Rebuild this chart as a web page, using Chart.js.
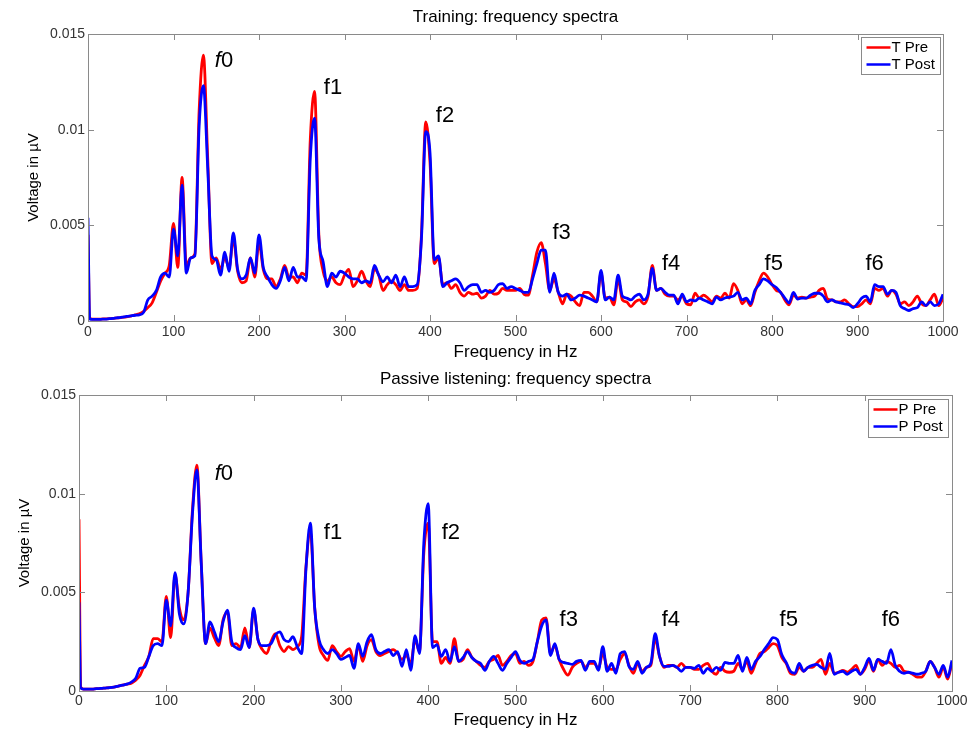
<!DOCTYPE html>
<html>
<head>
<meta charset="utf-8">
<title>Frequency spectra</title>
<script src="https://cdn.jsdelivr.net/npm/chart.js@4.4.1/dist/chart.umd.min.js"></script>
<style>
  html, body { margin: 0; padding: 0; background: #fff; }
  #wrap { position: relative; width: 973px; height: 731px; }
  .panel { position: absolute; left: 0; width: 973px; }
</style>
</head>
<body>
<div id="wrap">
  <div class="panel" style="top:0;height:365px"><canvas id="training" width="973" height="365"></canvas></div>
  <div class="panel" style="top:365px;height:366px"><canvas id="passive" width="973" height="366"></canvas></div>
</div>
<script>
// frequency of each sample, Hz
const freqHz = [
  0, 2, 5, 10, 15, 20, 25, 30, 35, 40,
  45, 50, 55, 60, 65, 70, 75, 80, 85, 90,
  95, 100, 105, 110, 115, 120, 125, 130, 135, 140,
  145, 150, 155, 160, 165, 170, 175, 180, 185, 190,
  195, 200, 205, 210, 215, 220, 225, 230, 235, 240,
  245, 250, 255, 260, 265, 270, 275, 280, 285, 290,
  295, 300, 305, 310, 315, 320, 325, 330, 335, 340,
  345, 350, 355, 360, 365, 370, 375, 380, 385, 390,
  395, 400, 405, 410, 415, 420, 425, 430, 435, 440,
  445, 450, 455, 460, 465, 470, 475, 480, 485, 490,
  495, 500, 505, 510, 515, 520, 525, 530, 535, 540,
  545, 550, 555, 560, 565, 570, 575, 580, 585, 590,
  595, 600, 605, 610, 615, 620, 625, 630, 635, 640,
  645, 650, 655, 660, 665, 670, 675, 680, 685, 690,
  695, 700, 705, 710, 715, 720, 725, 730, 735, 740,
  745, 750, 755, 760, 765, 770, 775, 780, 785, 790,
  795, 800, 805, 810, 815, 820, 825, 830, 835, 840,
  845, 850, 855, 860, 865, 870, 875, 880, 885, 890,
  895, 900, 905, 910, 915, 920, 925, 930, 935, 940,
  945, 950, 955, 960, 965, 970, 975, 980, 985, 990,
  995, 1000
];

// spectra, values in thousandths of a µV (0.001 µV)
const tPre = [
  4.5, 0.15, 0.1, 0.1, 0.1, 0.11, 0.12, 0.14, 0.16, 0.19,
  0.22, 0.26, 0.32, 0.38, 0.5, 0.7, 0.95, 1.5, 2.1, 2.5,
  2.9, 5.1, 2.8, 7.5, 2.9, 3.3, 3.5, 11.0, 13.9, 8.5,
  3.0, 3.3, 2.7, 3.3, 2.8, 4.3, 2.6, 2.0, 2.1, 3.3,
  2.3, 4.1, 2.7, 2.2, 2.2, 1.8, 2.2, 2.9, 2.3, 2.3,
  2.0, 2.5, 2.4, 9.5, 12.0, 4.5, 2.6, 2.1, 2.3, 2.0,
  1.9, 2.4, 2.7, 1.8, 2.1, 2.6, 2.1, 1.8, 2.7, 2.4,
  1.6, 1.9, 2.1, 1.9, 1.6, 1.9, 1.6, 1.6, 1.7, 4.5,
  10.4, 8.3, 3.0, 3.3, 1.9, 2.0, 1.7, 1.9, 1.5, 1.3,
  1.5, 1.4, 1.45, 1.2, 1.3, 1.6, 1.4, 1.45, 1.7, 1.6,
  1.6, 1.6, 1.7, 1.4, 1.35, 2.4, 3.6, 4.1, 3.0, 1.6,
  2.2, 1.5, 0.9, 1.4, 1.3, 1.0, 0.8, 1.5, 1.5, 1.3,
  1.0, 2.5, 1.2, 1.25, 0.85, 2.2, 1.1, 1.0, 0.75, 1.0,
  1.1, 0.9, 1.3, 2.9, 1.6, 1.7, 1.4, 1.3, 1.3, 1.1,
  1.3, 0.9, 0.85, 1.45, 1.2, 1.35, 1.2, 1.0, 1.3, 1.2,
  1.45, 1.2, 1.95, 1.6, 0.9, 1.1, 0.8, 1.5, 2.1, 2.5,
  2.3, 1.9, 1.6, 1.5, 1.1, 0.85, 1.35, 1.2, 1.25, 1.2,
  1.25, 1.3, 1.6, 1.7, 1.15, 1.1, 1.0, 1.0, 1.1, 0.9,
  0.75, 0.75, 0.9, 1.1, 0.9, 1.7, 1.6, 1.7, 1.3, 1.6,
  1.4, 0.9, 1.0, 0.8, 1.0, 1.3, 0.9, 0.8, 1.1, 1.4,
  0.8, 1.2
];
const tPost = [
  5.4, 0.1, 0.08, 0.08, 0.09, 0.1, 0.12, 0.14, 0.17, 0.2,
  0.24, 0.27, 0.3, 0.32, 0.45, 1.1, 1.3, 1.6, 2.3, 2.5,
  2.3, 4.8, 3.4, 7.1, 2.5, 3.3, 3.4, 10.2, 12.3, 8.0,
  3.4, 3.2, 2.4, 3.6, 2.6, 4.6, 2.7, 2.2, 2.4, 3.3,
  2.5, 4.5, 2.8, 2.3, 1.9, 1.7, 2.1, 2.8, 2.1, 2.8,
  2.3, 2.3, 2.1, 8.5, 10.6, 4.3, 3.1, 1.8, 2.5, 2.3,
  2.6, 2.5, 2.3, 2.2, 2.2, 2.0, 2.1, 2.0, 2.9, 2.4,
  2.05, 2.3, 2.0, 2.4, 1.8, 2.3, 1.8, 1.8, 1.9, 4.3,
  9.9, 8.8, 3.2, 3.4, 1.8, 2.0, 2.1, 2.2, 2.0, 1.6,
  1.8, 1.9, 1.9, 1.5, 1.6, 1.5, 1.6, 1.9, 1.95, 1.7,
  1.8, 1.7, 1.6, 1.5, 1.5, 2.2, 3.0, 3.7, 3.7, 1.5,
  2.5, 1.5, 1.3, 1.4, 1.1, 1.2, 1.35, 1.3, 1.2, 1.1,
  1.0, 2.65, 1.1, 1.25, 1.1, 2.4, 1.3, 1.2, 1.1, 1.3,
  1.4, 1.1, 1.4, 2.75, 1.6, 1.7, 1.5, 1.35, 1.35, 0.9,
  1.4, 1.0, 1.1, 1.05, 1.2, 1.1, 1.0, 0.9, 1.25, 1.1,
  1.2, 1.25, 1.3, 1.5, 1.1, 1.2, 0.9, 1.6, 1.9, 2.2,
  2.1, 1.9, 1.75, 1.5, 1.2, 0.95, 1.5, 1.15, 1.2, 1.2,
  1.35, 1.45, 1.45, 1.3, 1.0, 1.1, 1.0, 0.95, 0.9, 0.85,
  0.7, 0.9, 1.2, 1.3, 1.0, 1.9, 1.8, 1.8, 1.4, 1.6,
  1.5, 0.8, 0.65, 0.55, 0.65, 0.7, 1.0, 0.8, 1.0, 0.8,
  0.9, 1.4
];
const pPre = [
  8.7, 0.2, 0.1, 0.1, 0.1, 0.12, 0.13, 0.15, 0.17, 0.2,
  0.25, 0.3, 0.35, 0.4, 0.55, 0.8, 1.3, 1.75, 2.65, 2.65,
  2.5, 4.8, 2.7, 5.9, 4.2, 3.6, 5.0, 9.2, 11.45, 6.5,
  2.4, 3.2, 2.7, 2.3, 3.6, 4.0, 2.3, 2.4, 2.2, 3.2,
  2.2, 4.1, 2.6, 2.1, 1.9, 2.5, 2.9, 2.3, 2.0, 2.25,
  2.1, 2.25, 2.75, 6.3, 8.15, 4.2, 2.3, 1.8, 1.55, 2.3,
  2.0, 1.75, 2.0, 2.15, 1.5, 2.3, 1.5, 2.3, 2.6, 2.0,
  1.8, 1.9, 2.0, 2.1, 1.9, 1.6, 1.8, 1.4, 2.6, 2.0,
  7.0, 8.5, 2.5, 2.5, 1.4, 1.7, 1.4, 2.65, 1.5, 1.6,
  2.1, 1.7, 1.5, 1.3, 1.2, 1.5, 1.6, 1.8, 1.3, 1.5,
  1.8, 1.9, 1.4, 1.5, 1.3, 1.5, 2.5, 3.6, 3.7, 1.9,
  2.3, 1.6, 1.1, 0.8, 1.2, 1.4, 1.5, 1.2, 1.4, 1.4,
  1.15, 1.9, 1.2, 1.1, 1.1, 1.6, 1.9, 1.3, 0.9, 1.4,
  1.0, 1.2, 1.3, 2.65, 1.75, 1.2, 1.3, 1.3, 1.2, 1.4,
  1.2, 1.2, 1.1, 1.1, 1.3, 1.4, 1.0, 0.85, 1.2, 1.0,
  0.95, 1.0, 1.4, 1.1, 1.5, 0.9, 1.4, 1.9, 2.0, 2.2,
  2.4, 2.3, 1.7, 1.4, 0.9, 0.85, 1.2, 1.0, 1.2, 1.2,
  1.4, 1.6, 0.85, 1.4, 0.9, 0.95, 1.05, 0.95, 1.1, 1.3,
  0.85, 1.1, 1.55, 1.0, 1.6, 1.3, 1.5, 1.4, 1.2, 1.3,
  1.0, 0.95, 0.85, 0.7, 0.7, 1.0, 1.5, 1.2, 0.7, 1.2,
  0.6, 1.45
];
const pPost = [
  4.5, 0.15, 0.1, 0.1, 0.1, 0.12, 0.13, 0.15, 0.17, 0.2,
  0.25, 0.3, 0.35, 0.45, 0.65, 1.15, 1.2, 1.75, 2.3, 2.4,
  2.3, 4.6, 3.3, 6.0, 3.9, 3.4, 5.0, 9.0, 11.2, 6.5,
  2.4, 3.5, 3.0, 2.5, 3.5, 4.1, 2.5, 2.2, 2.1, 2.8,
  2.2, 4.2, 2.6, 2.3, 2.3, 2.4, 2.85, 3.0, 2.6, 2.5,
  2.75, 2.25, 1.9, 6.2, 8.5, 4.2, 2.6, 2.1, 1.9, 2.1,
  1.9, 1.6, 1.7, 1.8, 1.15, 2.4, 1.75, 2.5, 2.85, 2.1,
  1.9, 2.0, 2.1, 1.8, 2.0, 1.25, 2.1, 1.05, 2.8, 1.9,
  7.5, 9.5, 2.2, 2.35, 1.75, 2.1, 1.5, 2.25, 1.5, 1.7,
  2.0, 1.7, 1.5, 1.4, 1.05, 1.5, 1.75, 1.4, 1.05, 1.4,
  1.7, 2.0, 1.55, 1.4, 1.5, 1.6, 2.5, 3.3, 3.6, 1.8,
  2.4, 1.6, 1.45, 1.4, 1.35, 1.5, 1.55, 1.05, 1.5, 1.5,
  1.05, 2.25, 1.0, 1.4, 0.9, 1.9, 2.0, 1.25, 1.1, 1.5,
  0.9, 1.2, 1.4, 2.9, 1.75, 1.25, 1.25, 1.3, 1.2, 1.0,
  1.2, 1.2, 1.15, 1.3, 0.9, 1.15, 1.0, 1.2, 1.05, 1.45,
  1.4, 1.4, 1.8, 1.0, 1.7, 1.1, 1.5, 1.75, 2.1, 2.4,
  2.7, 2.6, 1.85, 1.45, 1.0, 0.9, 1.4, 1.0, 1.2, 1.3,
  1.35, 1.2, 1.1, 1.9, 0.85, 0.95, 1.0, 0.85, 1.0, 1.1,
  0.85, 1.2, 1.65, 1.05, 1.6, 1.5, 1.4, 2.1, 1.3, 1.0,
  0.9, 0.95, 0.9, 0.85, 0.9, 1.0, 1.5, 1.2, 0.85, 1.3,
  0.7, 1.55
];

// axis ticks
const xTicks = [0, 100, 200, 300, 400, 500, 600, 700, 800, 900, 1000];
const yTicks = [0, 0.005, 0.01, 0.015];
const yTickLabels = ['0', '0.005', '0.01', '0.015'];

// harmonic markers and where they sit (Hz, µV)
const harmonicNames = ['f0', 'f1', 'f2', 'f3', 'f4', 'f5', 'f6'];
const trainingLabelHz = [159, 286.5, 417.5, 554, 682, 802, 920];
const trainingLabelV = [0.0136, 0.0122, 0.0107, 0.0046, 0.0030, 0.0030, 0.0030];
const passiveLabelHz = [166, 291, 426, 561, 678, 813, 930];
const passiveLabelV = [0.0110, 0.0080, 0.0080, 0.0036, 0.0036, 0.0036, 0.0036];

const FONT = '"Liberation Sans", Arial, Helvetica, sans-serif';
Chart.defaults.font.family = FONT;

function toPoints(values) {
    return freqHz.map((f, i) => ({ x: f, y: values[i] / 1000 }));
}

// box round the plot with inward ticks on all four sides
const matlabFrame = {
    id: 'matlabFrame',
    afterDraw(chart) {
        const { ctx, chartArea: a, scales: { x, y } } = chart;
        ctx.save();
        ctx.strokeStyle = '#8a8a8a';
        ctx.lineWidth = 1;
        ctx.beginPath();
        x.ticks.forEach(t => {
            const px = Math.round(x.getPixelForValue(t.value)) + 0.5;
            ctx.moveTo(px, a.bottom); ctx.lineTo(px, a.bottom - 6);
            ctx.moveTo(px, a.top); ctx.lineTo(px, a.top + 6);
        });
        y.ticks.forEach(t => {
            const py = Math.round(y.getPixelForValue(t.value)) + 0.5;
            ctx.moveTo(a.left, py); ctx.lineTo(a.left + 6, py);
            ctx.moveTo(a.right, py); ctx.lineTo(a.right - 6, py);
        });
        ctx.stroke();
        ctx.strokeRect(Math.round(a.left) + 0.5, Math.round(a.top) + 0.5,
            Math.round(a.right - a.left), Math.round(a.bottom - a.top));
        ctx.restore();
    }
};

// f0..f6 text next to the peaks
const harmonicLabels = {
    id: 'harmonicLabels',
    afterDatasetsDraw(chart, args, opts) {
        const { ctx, scales: { x, y } } = chart;
        const size = 22;
        ctx.save();
        ctx.fillStyle = '#000';
        ctx.textBaseline = 'middle';
        ctx.textAlign = 'left';
        harmonicNames.forEach((name, i) => {
            const px = x.getPixelForValue(opts.hz[i]);
            const py = y.getPixelForValue(opts.volt[i]);
            const head = name.charAt(0);
            const tail = name.slice(1);
            const headFont = (i === 0 ? 'italic ' : '') + size + 'px ' + FONT;
            const tailFont = size + 'px ' + FONT;
            ctx.font = headFont;
            const w1 = ctx.measureText(head).width;
            ctx.font = tailFont;
            const w2 = ctx.measureText(tail).width;
            const left = px - (w1 + w2) / 2;
            ctx.font = headFont;
            ctx.fillText(head, left, py);
            ctx.font = tailFont;
            ctx.fillText(tail, left + w1, py);
        });
        ctx.restore();
    }
};

// boxed legend in the upper right corner of the axes
const legendBox = {
    id: 'legendBox',
    afterDraw(chart, args, opts) {
        const { ctx, chartArea: a } = chart;
        const left = Math.round(a.right - opts.inset - opts.width) + 0.5;
        const top = Math.round(a.top + opts.inset) + 0.5;
        ctx.save();
        ctx.fillStyle = '#fff';
        ctx.fillRect(left, top, opts.width, opts.height);
        ctx.strokeStyle = '#8a8a8a';
        ctx.lineWidth = 1;
        ctx.strokeRect(left, top, opts.width, opts.height);
        ctx.font = '15px ' + FONT;
        ctx.textBaseline = 'middle';
        chart.data.datasets.forEach((ds, i) => {
            const ly = top + 10 + i * 17;
            ctx.strokeStyle = ds.borderColor;
            ctx.lineWidth = 2.5;
            ctx.beginPath();
            ctx.moveTo(left + 5, ly);
            ctx.lineTo(left + 29, ly);
            ctx.stroke();
            ctx.fillStyle = '#000';
            ctx.fillText(ds.label, left + 30, ly);
        });
        ctx.restore();
    }
};

function spectrumChart(id, cfg) {
    return new Chart(document.getElementById(id), {
        type: 'line',
        data: {
            datasets: [
                {
                    label: cfg.preLabel,
                    data: toPoints(cfg.pre),
                    borderColor: 'rgb(255,0,0)',
                    borderWidth: 2.8,
                    pointRadius: 0,
                    cubicInterpolationMode: 'monotone',
                    order: 1,
                },
                {
                    label: cfg.postLabel,
                    data: toPoints(cfg.post),
                    borderColor: 'rgb(0,0,255)',
                    borderWidth: 2.8,
                    pointRadius: 0,
                    cubicInterpolationMode: 'monotone',
                    order: 0,
                },
            ],
        },
        options: {
            responsive: false,
            animation: false,
            devicePixelRatio: 1,
            events: [],
            layout: { padding: { left: 0, right: cfg.rightPad, top: 0, bottom: 0 } },
            plugins: {
                legend: { display: false },
                tooltip: { enabled: false },
                title: {
                    display: true,
                    fullSize: false,
                    text: cfg.title,
                    color: '#000',
                    font: { size: 17, weight: 'normal' },
                    padding: cfg.titlePad,
                },
                harmonicLabels: { hz: cfg.labelHz, volt: cfg.labelV },
                legendBox: cfg.legend,
            },
            scales: {
                x: {
                    type: 'linear',
                    min: 0,
                    max: 1000,
                    afterBuildTicks: s => { s.ticks = xTicks.map(v => ({ value: v })); },
                    afterFit: s => { s.height = cfg.xHeight; },
                    grid: { display: false, drawTicks: false },
                    border: { display: false },
                    ticks: {
                        autoSkip: false,
                        maxRotation: 0,
                        padding: cfg.xTickPad,
                        color: '#333',
                        font: { size: 14 },
                        callback: v => String(v),
                    },
                    title: {
                        display: true,
                        text: 'Frequency in Hz',
                        color: '#000',
                        font: { size: 17 },
                        padding: { top: 0, bottom: cfg.xTitlePad },
                    },
                },
                y: {
                    type: 'linear',
                    min: 0,
                    max: 0.015,
                    afterBuildTicks: s => { s.ticks = yTicks.map(v => ({ value: v })); },
                    afterFit: s => { s.width = cfg.yWidth; },
                    grid: { display: false, drawTicks: false },
                    border: { display: false },
                    ticks: {
                        padding: 3,
                        color: '#333',
                        font: { size: 14 },
                        callback: v => yTickLabels[yTicks.indexOf(v)],
                    },
                    title: {
                        display: true,
                        text: 'Voltage in µV',
                        color: '#000',
                        font: { size: 15 },
                        padding: { top: cfg.yTitlePad, bottom: 0 },
                    },
                },
            },
        },
        plugins: [matlabFrame, harmonicLabels, legendBox],
    });
}

spectrumChart('training', {
    title: 'Training: frequency spectra',
    preLabel: 'T Pre', postLabel: 'T Post',
    pre: tPre, post: tPost,
    labelHz: trainingLabelHz, labelV: trainingLabelV,
    rightPad: 30, yWidth: 88, xHeight: 44,
    titlePad: { top: 6.8, bottom: 6.8 },
    xTickPad: 2.6, xTitlePad: 2.8, yTitlePad: 25,
    legend: { width: 79, height: 37, inset: 3 },
});

spectrumChart('passive', {
    title: 'Passive listening: frequency spectra',
    preLabel: 'P Pre', postLabel: 'P Post',
    pre: pPre, post: pPost,
    labelHz: passiveLabelHz, labelV: passiveLabelV,
    rightPad: 21, yWidth: 79, xHeight: 40,
    titlePad: { top: 3.8, bottom: 5.8 },
    xTickPad: 1.6, xTitlePad: 0.8, yTitlePad: 16,
    legend: { width: 80, height: 38, inset: 4 },
});
</script>
</body>
</html>
